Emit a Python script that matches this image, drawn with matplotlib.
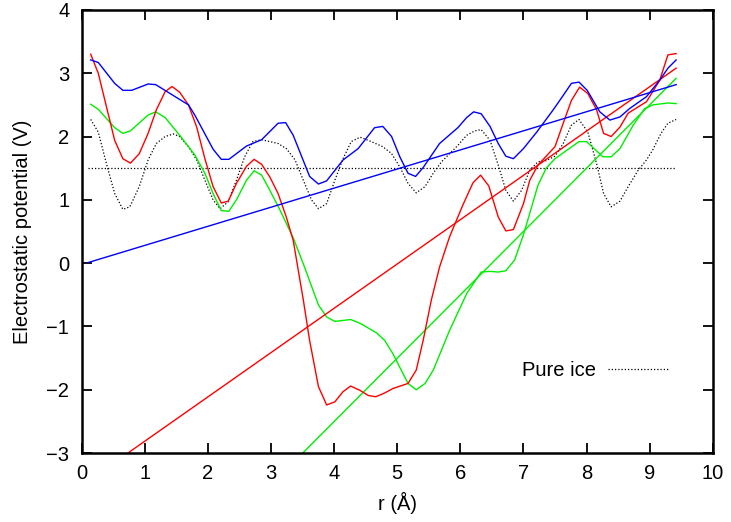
import numpy as np
import matplotlib
matplotlib.use("Agg")
import matplotlib.pyplot as plt

plt.rcParams['font.family'] = ['Liberation Sans', 'DejaVu Sans']

# curves (r in Angstrom, potential in V)
blue_x = [0.14, 0.26, 0.52, 0.65, 0.79, 1.05, 1.17, 1.43, 1.69, 1.79, 2.08, 2.21, 2.33, 2.61, 2.85,
          3.11, 3.23, 3.35, 3.61, 3.75, 3.88, 4.14, 4.38, 4.64, 4.77, 4.91, 5.04, 5.17, 5.29, 5.41,
          5.67, 5.96, 6.10, 6.21, 6.33, 6.47, 6.60, 6.72, 6.84, 7.00, 7.21, 7.47, 7.63, 7.76, 7.88,
          8.01, 8.21, 8.37, 8.53, 8.68, 8.95, 9.16, 9.29, 9.42]
blue_y = [3.21, 3.17, 2.84, 2.73, 2.73, 2.83, 2.82, 2.66, 2.50, 2.34, 1.80, 1.64, 1.64, 1.85, 1.95,
          2.21, 2.22, 2.02, 1.37, 1.25, 1.30, 1.63, 1.81, 2.14, 2.16, 2.00, 1.68, 1.42, 1.37, 1.51,
          1.89, 2.14, 2.30, 2.39, 2.36, 2.16, 1.89, 1.69, 1.65, 1.81, 2.07, 2.42, 2.65, 2.84, 2.86,
          2.73, 2.39, 2.26, 2.31, 2.44, 2.63, 2.89, 3.08, 3.21]

red_x = [0.14, 0.26, 0.39, 0.52, 0.65, 0.77, 0.91, 1.05, 1.18, 1.32, 1.43, 1.55, 1.69, 1.82, 1.95,
         2.08, 2.21, 2.32, 2.45, 2.61, 2.73, 2.85, 2.98, 3.11, 3.24, 3.35, 3.51, 3.61, 3.75, 3.88,
         4.01, 4.14, 4.26, 4.41, 4.54, 4.66, 4.80, 4.93, 5.17, 5.30, 5.41, 5.54, 5.67, 5.83, 6.04,
         6.20, 6.32, 6.45, 6.60, 6.72, 6.84, 7.00, 7.10, 7.23, 7.50, 7.63, 7.76, 7.89, 8.02, 8.16,
         8.27, 8.39, 8.53, 8.66, 8.95, 9.16, 9.29, 9.42]
red_y = [3.30, 3.00, 2.47, 1.94, 1.65, 1.58, 1.73, 2.05, 2.42, 2.71, 2.79, 2.70, 2.50, 2.15, 1.65,
         1.21, 0.95, 0.98, 1.26, 1.53, 1.64, 1.56, 1.36, 1.10, 0.73, 0.36, -0.58, -1.22, -1.95, -2.24,
         -2.19, -2.03, -1.94, -2.01, -2.09, -2.11, -2.05, -1.98, -1.90, -1.69, -1.22, -0.58, -0.06, 0.42, 0.92,
         1.27, 1.39, 1.22, 0.73, 0.51, 0.53, 0.94, 1.31, 1.55, 1.84, 2.21, 2.57, 2.78, 2.68, 2.42,
         2.05, 2.00, 2.15, 2.37, 2.55, 2.89, 3.29, 3.31]

green_x = [0.14, 0.26, 0.52, 0.65, 0.77, 1.05, 1.17, 1.32, 1.55, 1.79, 1.95, 2.08, 2.21, 2.33, 2.45,
           2.61, 2.73, 2.85, 2.98, 3.14, 3.35, 3.51, 3.75, 3.88, 4.01, 4.26, 4.41, 4.67, 4.80, 4.93,
           5.17, 5.30, 5.44, 5.57, 5.83, 6.10, 6.33, 6.47, 6.60, 6.72, 6.86, 7.00, 7.23, 7.36, 7.50,
           7.88, 8.00, 8.26, 8.39, 8.53, 8.74, 8.92, 9.05, 9.29, 9.42]
green_y = [2.51, 2.43, 2.14, 2.05, 2.09, 2.34, 2.39, 2.30, 2.02, 1.71, 1.42, 1.10, 0.83, 0.82, 1.00,
           1.31, 1.46, 1.39, 1.15, 0.84, 0.40, -0.01, -0.66, -0.85, -0.92, -0.89, -0.95, -1.10, -1.22, -1.43,
           -1.90, -2.00, -1.90, -1.69, -1.06, -0.48, -0.14, -0.13, -0.14, -0.12, 0.05, 0.45, 1.23, 1.50, 1.65,
           1.92, 1.92, 1.68, 1.68, 1.81, 2.18, 2.44, 2.50, 2.53, 2.52]

ice_x = [0.14, 0.26, 0.39, 0.52, 0.65, 0.76, 0.91, 1.05, 1.18, 1.32, 1.45, 1.55, 1.69, 1.82, 1.95,
         2.08, 2.19, 2.32, 2.45, 2.58, 2.71, 2.85, 2.98, 3.11, 3.24, 3.38, 3.51, 3.64, 3.75, 3.88,
         4.01, 4.14, 4.27, 4.41, 4.54, 4.77, 4.91, 5.04, 5.17, 5.30, 5.44, 5.57, 5.70, 5.83, 5.96,
         6.10, 6.23, 6.33, 6.47, 6.60, 6.72, 6.84, 6.97, 7.10, 7.23, 7.36, 7.50, 7.63, 7.76, 7.88,
         8.02, 8.16, 8.27, 8.39, 8.53, 8.66, 8.82, 8.95, 9.05, 9.18, 9.29, 9.42]
ice_y = [2.27, 2.07, 1.57, 1.10, 0.85, 0.89, 1.21, 1.63, 1.89, 2.00, 2.04, 2.00, 1.84, 1.63, 1.31,
         1.00, 0.86, 0.97, 1.31, 1.68, 1.92, 1.95, 1.92, 1.89, 1.81, 1.63, 1.31, 1.00, 0.86, 0.94,
         1.31, 1.65, 1.92, 1.99, 1.94, 1.84, 1.73, 1.52, 1.26, 1.11, 1.21, 1.42, 1.60, 1.73, 1.86,
         2.02, 2.09, 2.11, 1.94, 1.55, 1.15, 0.98, 1.15, 1.47, 1.60, 1.62, 1.69, 1.89, 2.18, 2.27,
         2.07, 1.57, 1.10, 0.89, 0.98, 1.21, 1.47, 1.63, 1.79, 2.05, 2.21, 2.27]

# straight fit lines, given by their end points
fit_x = [0.1, 9.42]
blue_fit = [0.01, 2.82]
red_fit = [-3.44, 3.08]
green_fit = [-6.40, 2.92]
ice_avg = [1.5, 1.5]

dots = (0, (1, 1.6))
fs = 14.5

fig = plt.figure(figsize=(7.31, 5.22), dpi=100)
ax = fig.add_axes([0.112, 0.132, 0.863, 0.849])

ax.plot(fit_x, ice_avg, color='black', lw=0.9, ls=dots)
ax.plot(ice_x, ice_y, color='black', lw=0.9, ls=dots, label='Pure ice')
ax.plot(green_x, green_y, color='#00ee00', lw=1.0)
ax.plot(fit_x, green_fit, color='#00ee00', lw=1.0)
ax.plot(red_x, red_y, color='#ff0000', lw=1.0)
ax.plot(fit_x, red_fit, color='#ff0000', lw=1.0)
ax.plot(blue_x, blue_y, color='#0000ff', lw=1.0)
ax.plot(fit_x, blue_fit, color='#0000ff', lw=1.0)

ax.set_xlim(0, 10)
ax.set_ylim(-3, 4)
ax.set_xticks(range(0, 11))
ax.set_yticks(range(-3, 5))
ax.tick_params(direction='in', length=7, width=1.3, top=True, right=True, labelsize=fs)
ax.tick_params(axis='x', pad=8)
ax.tick_params(axis='y', pad=9)
for s in ax.spines.values():
    s.set_linewidth(1.8)

ax.set_xlabel('r (Å)', fontsize=fs, labelpad=6)
ax.set_ylabel('Electrostatic potential (V)', fontsize=fs, labelpad=10)

ax.legend(loc='center right', bbox_to_anchor=(0.942, 0.187), frameon=False, markerfirst=False,
          fontsize=fs, handlelength=3.0, handletextpad=0.6, borderaxespad=0)

fig.savefig('out.png', dpi=100)
